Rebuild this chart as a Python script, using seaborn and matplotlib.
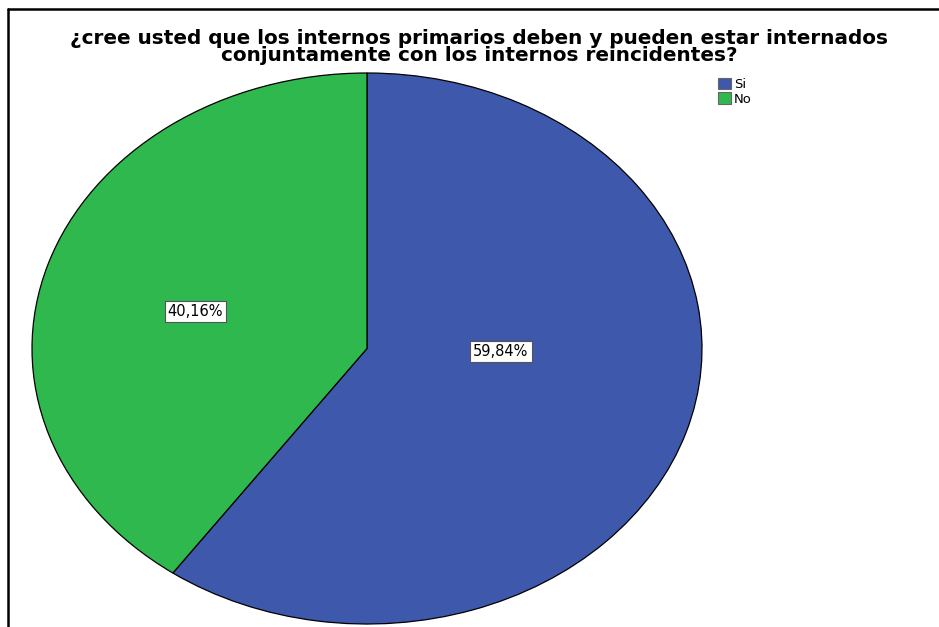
import matplotlib
matplotlib.use("Agg")
import matplotlib.pyplot as plt
import seaborn as sns
import numpy as np
from matplotlib.patches import Patch
from matplotlib.lines import Line2D

categories = ["Si", "No"]
percentages = [59.84, 40.16]
colors = ["#3e58ac", "#2eb84e"]
title = ("¿cree usted que los internos primarios deben y pueden estar internados\n"
         "conjuntamente con los internos reincidentes?")

sns.set_theme(style="white")
plt.rcParams["font.family"] = ["DejaVu Sans"]

fig = plt.figure(figsize=(9.39, 6.27), dpi=100)
W, H = 939, 627

# pie area (stretched into an ellipse like the SPSS export)
ax = fig.add_axes([32 / W, 1 - 624 / H, 670 / W, 551 / H])
wedges, texts, autotexts = ax.pie(
    percentages, colors=colors, startangle=90, counterclock=False,
    autopct=lambda p: f"{p:.2f}%".replace(".", ","),
    wedgeprops=dict(edgecolor="black", linewidth=0.9),
    textprops=dict(fontsize=10.5, color="black"),
)
ax.set_aspect("auto")
ax.set_xlim(-1, 1)
ax.set_ylim(-1, 1)
ax.axis("off")

# SPSS puts the labels a bit off the mid angle of each wedge
label_dist = [0.40, 0.53]
label_shift = [16, 3]
for w, t, d, s in zip(wedges, autotexts, label_dist, label_shift):
    ang = np.deg2rad((w.theta1 + w.theta2) / 2 + s)
    t.set_position((d * np.cos(ang), d * np.sin(ang)))
    t.set_bbox(dict(boxstyle="square,pad=0.2", facecolor="white",
                    edgecolor="#555555", linewidth=0.8))

fig.text(479 / W, 1 - 47 / H, title, ha="center", va="center", color="black",
         fontsize=14.45, fontweight="bold", linespacing=0.9)

handles = [Patch(facecolor=c, edgecolor="#666666", linewidth=0.8) for c in colors]
fig.legend(handles, categories, loc="upper left",
           bbox_to_anchor=(711 / W, 1 - 71 / H), frameon=False,
           fontsize=9.5, handlelength=1.0, handleheight=1.0,
           handletextpad=0.25, labelspacing=0.1, borderpad=0,
           labelcolor="black")

# partial outer frame (left and top edges)
fig.add_artist(Line2D([8 / W, 8 / W], [0, 1 - 9 / H], color="black", linewidth=1.8))
fig.add_artist(Line2D([8 / W, 1], [1 - 9 / H, 1 - 9 / H], color="black", linewidth=1.8))

fig.savefig("out.png", dpi=100, facecolor="white")
